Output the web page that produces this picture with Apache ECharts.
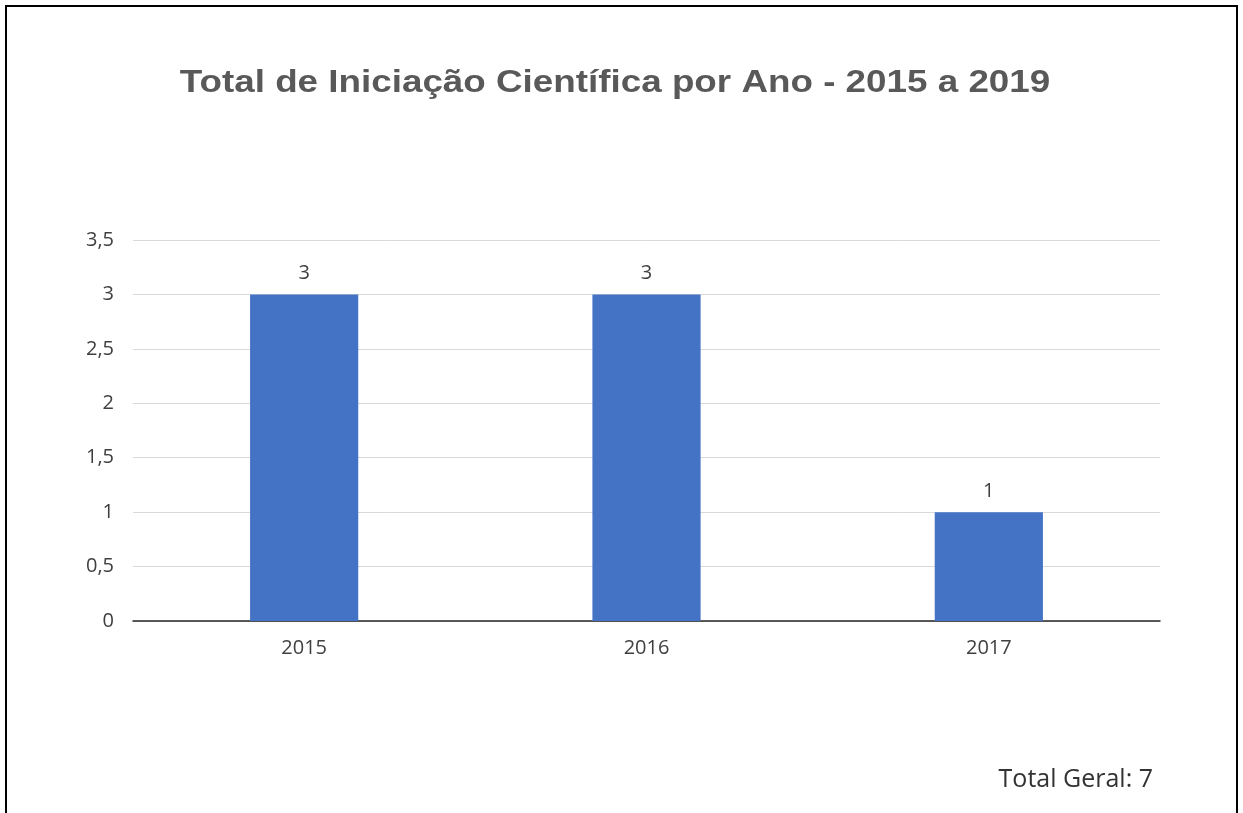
<!DOCTYPE html>
<html>
<head>
<meta charset="utf-8">
<script src="https://cdn.jsdelivr.net/npm/echarts@6/dist/echarts.min.js"></script>
<style>
    html, body { margin: 0; padding: 0; background: #fff; }
    #chart { width: 1243px; height: 813px; }
</style>
</head>
<body>
<div id="chart"></div>
<script>
var titulo = 'Total de Iniciação Científica por Ano - 2015 a 2019';
var anos = ['2015', '2016', '2017'];
var totais = [3, 3, 1];
var totalGeral = 7;

var myChart = echarts.init(document.getElementById('chart'));

var option = {
    backgroundColor: '#fff',
    graphic: [
        {
            type: 'polyline',
            shape: { points: [[6, 820], [6, 6], [1237, 6], [1237, 820]] },
            style: { stroke: '#000', lineWidth: 2, fill: null }
        },
        {
            // title, slightly stretched like the original picture
            type: 'text',
            x: 615,
            y: 83,
            scaleX: 1.15,
            style: {
                text: titulo,
                font: 'bold 32px "Liberation Sans"',
                fill: '#595959',
                textAlign: 'center',
                textVerticalAlign: 'middle'
            }
        },
        {
            type: 'text',
            x: 1153,
            y: 780,
            style: {
                text: 'Total Geral: ' + totalGeral,
                font: '25px "Open Sans"',
                fill: '#333333',
                textAlign: 'right',
                textVerticalAlign: 'middle'
            }
        }
    ],
    grid: {
        left: 133,
        right: 83,
        top: 240,
        bottom: 192
    },
    xAxis: {
        type: 'category',
        data: anos,
        axisTick: { show: false },
        axisLine: { lineStyle: { color: '#262626', width: 1.5 } },
        axisLabel: {
            margin: 17,
            fontFamily: 'Open Sans',
            fontSize: 20,
            color: '#404040'
        }
    },
    yAxis: {
        type: 'value',
        min: 0,
        max: 3.5,
        interval: 0.5,
        axisLine: { show: false },
        axisTick: { show: false },
        splitLine: { lineStyle: { color: '#d9d9d9' } },
        axisLabel: {
            margin: 19,
            fontFamily: 'Open Sans',
            fontSize: 20,
            color: '#404040',
            formatter: function (v) { return String(v).replace('.', ','); }
        }
    },
    series: [
        {
            type: 'bar',
            data: totais,
            barWidth: '31.6%',
            itemStyle: { color: '#4472c4' },
            label: {
                show: true,
                position: 'top',
                distance: 11,
                fontFamily: 'Open Sans',
                fontSize: 20,
                color: '#404040'
            }
        }
    ]
};

myChart.setOption(option);
</script>
</body>
</html>
